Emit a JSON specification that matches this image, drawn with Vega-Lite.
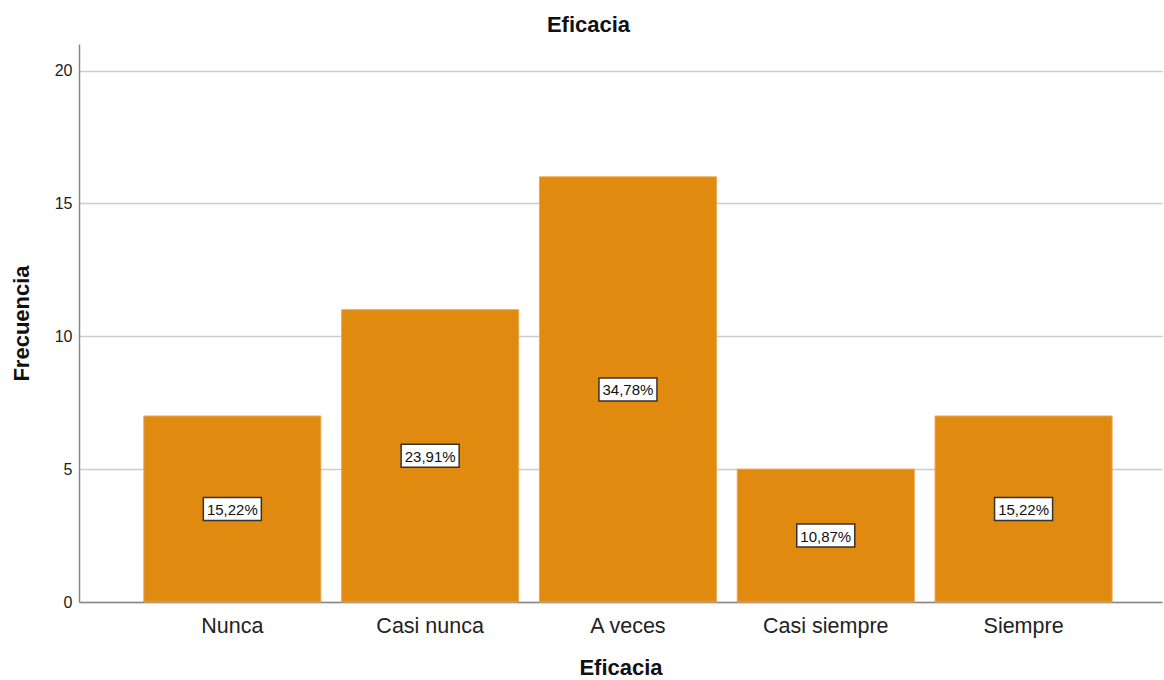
{
  "$schema": "https://vega.github.io/schema/vega-lite/v6.json",
  "width": 1083,
  "height": 558,
  "autosize": {"type": "none"},
  "padding": {"left": 79, "top": 44, "right": 2, "bottom": 78},
  "background": "white",
  "config": {
    "font": "Liberation Sans",
    "view": {"stroke": null}
  },
  "title": {
    "text": "Eficacia",
    "fontSize": 22,
    "fontWeight": "bold",
    "color": "#111111",
    "anchor": "middle",
    "dx": -32,
    "offset": 7
  },
  "data": {
    "values": [
      {"cat": "Nunca", "count": 7, "pct": "15,22%"},
      {"cat": "Casi nunca", "count": 11, "pct": "23,91%"},
      {"cat": "A veces", "count": 16, "pct": "34,78%"},
      {"cat": "Casi siempre", "count": 5, "pct": "10,87%"},
      {"cat": "Siempre", "count": 7, "pct": "15,22%"}
    ]
  },
  "encoding": {
    "x": {
      "field": "cat",
      "type": "nominal",
      "sort": null,
      "scale": {"paddingInner": 0.105, "paddingOuter": 0.29, "align": 0.565},
      "axis": {
        "title": "Eficacia",
        "titleFontSize": 22,
        "titleFontWeight": "bold",
        "titleColor": "#111111",
        "titlePadding": 21,
        "labelAngle": 0,
        "labelFontSize": 21.5,
        "labelColor": "#222222",
        "labelPadding": 13,
        "ticks": false,
        "domainColor": "#888888",
        "domainWidth": 1.5,
        "grid": false
      }
    }
  },
  "layer": [
    {
      "mark": {"type": "bar", "color": "#E08A10", "stroke": "#EDA552", "strokeWidth": 1},
      "encoding": {
        "y": {
          "field": "count",
          "type": "quantitative",
          "scale": {"domain": [0, 21], "nice": false},
          "axis": {
            "title": "Frecuencia",
            "titleFontSize": 22,
            "titleFontWeight": "bold",
            "titleColor": "#111111",
            "titlePadding": 21,
            "values": [0, 5, 10, 15, 20],
            "labelFontSize": 16,
            "labelColor": "#222222",
            "labelPadding": 7,
            "ticks": false,
            "domainColor": "#888888",
            "domainWidth": 1.5,
            "grid": true,
            "gridColor": "#cccccc",
            "gridWidth": 1.5
          }
        }
      }
    },
    {
      "transform": [{"calculate": "datum.count / 2", "as": "mid"}],
      "mark": {
        "type": "point",
        "shape": "M-1,-0.397H1V0.397H-1Z",
        "size": 3364,
        "filled": true,
        "fill": "white",
        "stroke": "#333333",
        "strokeWidth": 1.5,
        "opacity": 1
      },
      "encoding": {
        "y": {"field": "mid", "type": "quantitative"}
      }
    },
    {
      "transform": [{"calculate": "datum.count / 2", "as": "mid"}],
      "mark": {"type": "text", "fontSize": 15, "color": "#111111", "baseline": "middle", "align": "center", "dy": 1},
      "encoding": {
        "y": {"field": "mid", "type": "quantitative"},
        "text": {"field": "pct"}
      }
    }
  ]
}
